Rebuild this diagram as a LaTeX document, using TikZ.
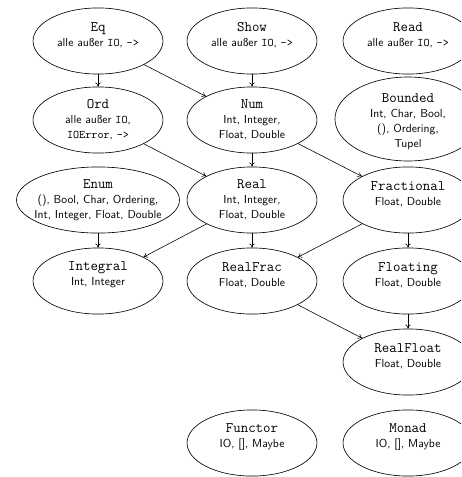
\documentclass[tikz,border=0pt]{standalone}
\usetikzlibrary{shapes.geometric,arrows.meta}
\newcommand\cttl[1]{{\fontsize{12.5}{12.9}\selectfont\ttfamily #1}}
\newcommand\ctt[1]{{\ttfamily #1}}
\begin{document}
\begin{tikzpicture}[x=0.862pt,y=-0.862pt,
  cls/.style={ellipse,draw,line width=0.55pt,minimum width=112pt,minimum height=57pt,inner sep=0pt},
  lbl/.style={align=center,font=\fontsize{10}{12.9}\selectfont\sffamily,inner sep=0pt},
  lbltwo/.style={lbl,yshift=5.2pt},
  lblfour/.style={lbl,yshift=-2.6pt},
  edge/.style={-{To[length=3.5pt,width=4.5pt]},line width=0.5pt}]
\useasboundingbox (0,0) rectangle (461,477);
\clip (0,0) rectangle (461,477);
% row 1
\node[cls,label={[lbltwo]center:{\cttl{Eq}\\alle außer \ctt{IO}, \ctt{->}}}] (eq) at (98,41) {};
\node[cls,label={[lbltwo]center:{\cttl{Show}\\alle außer \ctt{IO}, \ctt{->}}}] (show) at (252,41) {};
\node[cls,label={[lbltwo]center:{\cttl{Read}\\alle außer \ctt{IO}, \ctt{->}}}] (read) at (408,41) {};
% row 2
\node[cls,label={[lbl]center:{\cttl{Ord}\\alle außer \ctt{IO},\\\ctt{IOError}, \ctt{->}}}] (ord) at (98,120) {};
\node[cls,label={[lbl]center:{\cttl{Num}\\Int, Integer,\\Float, Double}}] (num) at (252,120) {};
\node[cls,minimum width=125.9pt,minimum height=72.4pt,label={[lblfour]center:{\cttl{Bounded}\\Int, Char, Bool,\\(), Ordering,\\Tupel}}] (bounded) at (408,119) {};
% row 3
\node[cls,minimum width=140.5pt,label={[lbl]center:{\cttl{Enum}\\(), Bool, Char, Ordering,\\Int, Integer, Float, Double}}] (enum) at (98,200) {};
\node[cls,label={[lbl]center:{\cttl{Real}\\Int, Integer,\\Float, Double}}] (real) at (252,200) {};
\node[cls,label={[lbltwo]center:{\cttl{Fractional}\\Float, Double}}] (fractional) at (408,200) {};
% row 4
\node[cls,label={[lbltwo]center:{\cttl{Integral}\\Int, Integer}}] (integral) at (98,281) {};
\node[cls,label={[lbltwo]center:{\cttl{RealFrac}\\Float, Double}}] (realfrac) at (252,281) {};
\node[cls,label={[lbltwo]center:{\cttl{Floating}\\Float, Double}}] (floating) at (408,281) {};
% row 5
\node[cls,label={[lbltwo]center:{\cttl{RealFloat}\\Float, Double}}] (realfloat) at (408,362) {};
% row 6
\node[cls,label={[lbltwo]center:{\cttl{Functor}\\IO, [], Maybe}}] (functor) at (252,443) {};
\node[cls,label={[lbltwo]center:{\cttl{Monad}\\IO, [], Maybe}}] (monad) at (408,443) {};
% edges
\draw[edge] (eq) -- (ord);
\draw[edge] (eq) -- (num);
\draw[edge] (show) -- (num);
\draw[edge] (ord) -- (real);
\draw[edge] (num) -- (real);
\draw[edge] (num) -- (fractional);
\draw[edge] (enum) -- (integral);
\draw[edge] (real) -- (integral);
\draw[edge] (real) -- (realfrac);
\draw[edge] (fractional) -- (realfrac);
\draw[edge] (fractional) -- (floating);
\draw[edge] (floating) -- (realfloat);
\draw[edge] (realfrac) -- (realfloat);
\end{tikzpicture}
\end{document}
